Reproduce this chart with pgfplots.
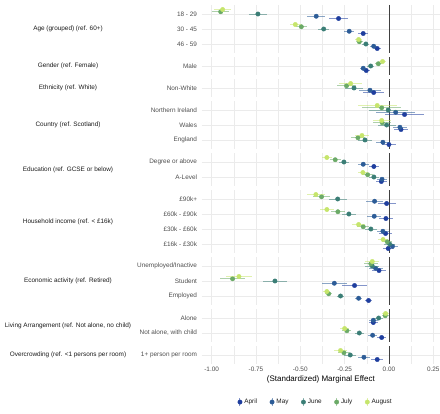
\documentclass[border=0pt]{standalone}
\usepackage{pgfplots}
\pgfplotsset{compat=1.18}
\usepackage{pgfplotstable}
\usepackage{fontspec}
\setmainfont{Liberation Sans}
\definecolor{aprC}{HTML}{1F3E9E}
\definecolor{mayC}{HTML}{2C5C97}
\definecolor{junC}{HTML}{3B7E76}
\definecolor{julC}{HTML}{6BAA67}
\definecolor{augC}{HTML}{C6E56C}
\definecolor{gridC}{HTML}{EBEBEB}
\definecolor{tickC}{HTML}{4D4D4D}
\definecolor{stripC}{HTML}{1A1A1A}

\pgfplotsset{
  ser/.style={only marks, mark=*, mark size=2.2pt, color=#1,
    error bars/.cd, x dir=both, x explicit, error mark=none,
    error bar style={#1, opacity=0.55, line width=0.9pt}},
}

\pgfplotstableread{
row apr aprE may mayE jun junE jul julE aug augE
14  -0.284 0.052 -0.410 0.052 -0.739 0.049 -0.949 0.047 -0.938 0.050
29  -0.145 0.028 -0.224 0.027 -0.368 0.030 -0.494 0.030 -0.528 0.030
44  -0.066 0.020 -0.086 0.020 -0.130 0.020 -0.167 0.020 -0.171 0.020
66  -0.128 0.020 -0.145 0.020 -0.103 0.020 -0.060 0.020 -0.036 0.020
88  -0.086 0.060 -0.107 0.060 -0.197 0.050 -0.239 0.055 -0.216 0.065
110  0.088 0.110  0.038 0.110 -0.004 0.110 -0.041 0.110 -0.066 0.110
125  0.068 0.040  0.062 0.040 -0.013 0.050 -0.038 0.050 -0.041 0.050
140  0.000 0.040 -0.034 0.040 -0.135 0.040 -0.175 0.040 -0.152 0.040
162 -0.085 0.030 -0.145 0.030 -0.254 0.030 -0.303 0.030 -0.350 0.030
177 -0.043 0.030 -0.039 0.030 -0.085 0.030 -0.120 0.030 -0.147 0.030
199 -0.013 0.050 -0.081 0.050 -0.289 0.050 -0.380 0.050 -0.412 0.050
214 -0.017 0.040 -0.083 0.040 -0.226 0.040 -0.288 0.040 -0.350 0.040
229 -0.019 0.035 -0.034 0.035 -0.102 0.035 -0.145 0.035 -0.171 0.035
244 -0.004 0.030  0.020 0.030  0.004 0.030 -0.010 0.030 -0.033 0.030
266 -0.056 0.040 -0.075 0.040 -0.094 0.040 -0.102 0.040 -0.094 0.040
281 -0.194 0.070 -0.308 0.070 -0.643 0.070 -0.882 0.070 -0.846 0.075
296 -0.115 0.020 -0.171 0.020 -0.273 0.020 -0.340 0.020 -0.350 0.020
318 -0.088 0.025 -0.088 0.025 -0.058 0.025 -0.021 0.020 -0.019 0.020
333 -0.041 0.025 -0.092 0.025 -0.167 0.025 -0.237 0.025 -0.250 0.025
355 -0.066 0.035 -0.141 0.035 -0.218 0.035 -0.254 0.035 -0.273 0.035
}\data

\begin{document}
\begin{tikzpicture}
\begin{axis}[
  scale only axis, width=238.3pt, height=359pt,
  xmin=-1.056, xmax=0.288, ymin=-364, ymax=-5,
  clip mode=individual,
  axis line style={draw=none},
  major tick length=0pt, minor tick length=0pt,
  tick style={draw=none},
  xtick={-1,-0.75,-0.5,-0.25,0,0.25},
  xticklabels={-1.00,-0.75,-0.50,-0.25,0.00,0.25},
  minor x tick num=1,
  ytick={-14,-29,-44,-66,-88,-110,-125,-140,-162,-177,-199,-214,-229,-244,-266,-281,-296,-318,-333,-355},
  yticklabels={18 - 29,30 - 45,46 - 59,Male,Non-White,Northern Ireland,Wales,England,Degree or above,A-Level,£90k+,£60k - £90k,£30k - £60k,£16k - £30k,Unemployed/Inactive,Student,Employed,Alone,{Not alone, with child},1+ person per room},
  xmajorgrids, xminorgrids, ymajorgrids,
  major grid style={gridC, line width=0.6pt},
  minor grid style={gridC, line width=0.4pt},
  ticklabel style={font=\fontsize{6.4}{7.5}\selectfont, text=tickC},
  yticklabel style={inner sep=0pt, xshift=-4.5pt},
  xticklabel style={inner sep=0pt, yshift=-3pt},
  xlabel={(Standardized) Marginal Effect},
  xlabel style={font=\fontsize{8}{9}\selectfont, at={(axis description cs:0.5,-0.042)}, anchor=center},
  legend columns=5,
  legend style={draw=none, fill=none, font=\fontsize{6.4}{7.5}\selectfont, text=stripC,
    at={(axis description cs:0.478,-0.106)}, anchor=center,
    /tikz/every even column/.append style={column sep=10.5pt}},
  legend image code/.code={
    \draw[opacity=0.55, line width=1pt] (0.25em,-4pt) -- (0.25em,4pt);
    \fill (0.25em,0pt) circle (2.2pt);},
]
\coordinate (bl) at (rel axis cs:0,0);
\coordinate (tr) at (rel axis cs:1,1);
% gaps between panels
\addplot[fill=white, draw=none, forget plot] coordinates {(-1.2,-53) (0.4,-53) (0.4,-57) (-1.2,-57)};
\addplot[fill=white, draw=none, forget plot] coordinates {(-1.2,-75) (0.4,-75) (0.4,-79) (-1.2,-79)};
\addplot[fill=white, draw=none, forget plot] coordinates {(-1.2,-97) (0.4,-97) (0.4,-101) (-1.2,-101)};
\addplot[fill=white, draw=none, forget plot] coordinates {(-1.2,-149) (0.4,-149) (0.4,-153) (-1.2,-153)};
\addplot[fill=white, draw=none, forget plot] coordinates {(-1.2,-186) (0.4,-186) (0.4,-190) (-1.2,-190)};
\addplot[fill=white, draw=none, forget plot] coordinates {(-1.2,-253) (0.4,-253) (0.4,-257) (-1.2,-257)};
\addplot[fill=white, draw=none, forget plot] coordinates {(-1.2,-305) (0.4,-305) (0.4,-309) (-1.2,-309)};
\addplot[fill=white, draw=none, forget plot] coordinates {(-1.2,-342) (0.4,-342) (0.4,-346) (-1.2,-346)};
% zero line per panel
\addplot[draw=black!75, line width=0.8pt, no marks, forget plot, unbounded coords=jump] coordinates {
 (0,-5) (0,-53) (0,nan) (0,-57) (0,-75) (0,nan) (0,-79) (0,-97) (0,nan)
 (0,-101) (0,-149) (0,nan) (0,-153) (0,-186) (0,nan) (0,-190) (0,-253) (0,nan)
 (0,-257) (0,-305) (0,nan) (0,-309) (0,-342) (0,nan) (0,-346) (0,-364)};
% series
\addplot[ser=aprC] table[x=apr, x error=aprE, y expr=-\thisrow{row}-4.5] {\data};
\addlegendentry{April}
\addplot[ser=mayC] table[x=may, x error=mayE, y expr=-\thisrow{row}-2.25] {\data};
\addlegendentry{May}
\addplot[ser=junC] table[x=jun, x error=junE, y expr=-\thisrow{row}] {\data};
\addlegendentry{June}
\addplot[ser=julC] table[x=jul, x error=julE, y expr=-\thisrow{row}+2.25] {\data};
\addlegendentry{July}
\addplot[ser=augC] table[x=aug, x error=augE, y expr=-\thisrow{row}+4.5] {\data};
\addlegendentry{August}
% strip labels
\begin{scope}[every node/.style={font=\fontsize{6.4}{7.5}\selectfont, text=stripC, anchor=center, inner sep=0pt}]
\node at (axis cs:-1.81,-29) {Age (grouped) (ref. 60+)};
\node at (axis cs:-1.81,-66) {Gender (ref. Female)};
\node at (axis cs:-1.81,-88) {Ethnicity (ref. White)};
\node at (axis cs:-1.81,-125) {Country (ref. Scotland)};
\node at (axis cs:-1.81,-169.5) {Education (ref. GCSE or below)};
\node at (axis cs:-1.81,-221.5) {Household income (ref. < £16k)};
\node at (axis cs:-1.81,-281) {Economic activity (ref. Retired)};
\node at (axis cs:-1.81,-325.5) {Living Arrangement (ref. Not alone, no child)};
\node at (axis cs:-1.81,-355) {Overcrowding (ref. <1 persons per room)};
\end{scope}
\end{axis}
\pgfresetboundingbox
\path[use as bounding box] ([shift={(-201.7pt,-49pt)}]bl) rectangle ([shift={(0pt,5pt)}]tr);
\end{tikzpicture}
\end{document}
